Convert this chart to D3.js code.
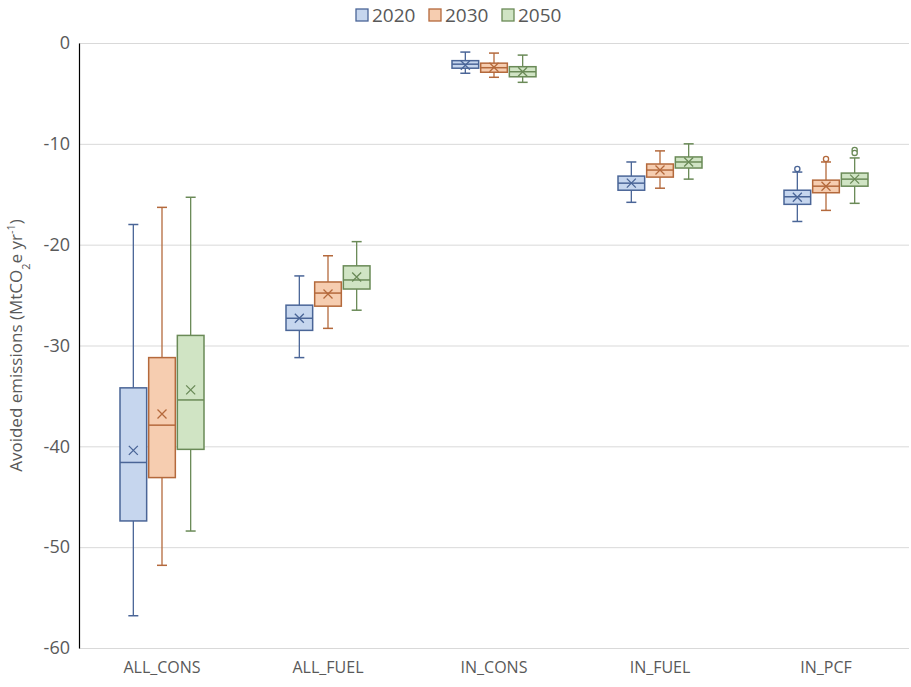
<!DOCTYPE html>
<html>
<head>
<meta charset="utf-8">
<script src="https://cdn.jsdelivr.net/npm/d3@7"></script>
<style>
  body { margin: 0; background: #fff; }
  text { font-family: "Open Sans", "Noto Sans", sans-serif; fill: #595959; }
</style>
</head>
<body>
<div id="chart"></div>
<script>
// categories and series
var categories = ["ALL_CONS", "ALL_FUEL", "IN_CONS", "IN_FUEL", "IN_PCF"];
var years = ["2020", "2030", "2050"];
var yTicks = [0, -10, -20, -30, -40, -50, -60];

// box stats per year, one entry per category: [whiskerLow, q1, median, q3, whiskerHigh, mean]
var stats2020 = [
  [-56.8, -47.4, -41.6, -34.2, -18.0, -40.4],
  [-31.2, -28.5, -27.3, -26.0, -23.1, -27.3],
  [-3.0, -2.5, -2.1, -1.75, -0.9, -2.2],
  [-15.8, -14.6, -13.9, -13.2, -11.8, -13.9],
  [-17.7, -16.0, -15.25, -14.6, -12.8, -15.3]
];
var stats2030 = [
  [-51.8, -43.1, -37.9, -31.2, -16.3, -36.8],
  [-28.3, -26.1, -24.8, -23.7, -21.1, -24.9],
  [-3.4, -2.9, -2.45, -2.0, -1.0, -2.4],
  [-14.4, -13.3, -12.6, -12.0, -10.7, -12.6],
  [-16.6, -14.85, -14.2, -13.6, -11.8, -14.2]
];
var stats2050 = [
  [-48.4, -40.3, -35.4, -29.0, -15.3, -34.4],
  [-26.5, -24.4, -23.5, -22.1, -19.7, -23.2],
  [-3.9, -3.35, -2.85, -2.35, -1.2, -2.85],
  [-13.5, -12.4, -11.8, -11.3, -10.0, -11.8],
  [-15.9, -14.2, -13.5, -12.9, -11.4, -13.5]
];
// outliers: [category, value]
var outliers2020 = [["IN_PCF", -12.5]];
var outliers2030 = [["IN_PCF", -11.5]];
var outliers2050 = [["IN_PCF", -10.6], ["IN_PCF", -10.9]];

var fills = ["#c6d6ee", "#f6cdb0", "#d0e4c4"];
var strokes = ["#4a6597", "#b4693c", "#6a8a57"];

var width = 911, height = 687;
var margin = { top: 43, right: 2, bottom: 39, left: 79 };

var svg = d3.select("#chart").append("svg")
  .attr("width", width)
  .attr("height", height);

var x = d3.scaleBand()
  .domain(categories)
  .range([margin.left, width - margin.right]);

var xYear = d3.scaleBand()
  .domain(years)
  .range([-42, 42])
  .paddingInner(0.07);

var y = d3.scaleLinear()
  .domain([-60, 0])
  .range([height - margin.bottom, margin.top]);

// gridlines
svg.append("g")
  .selectAll("line")
  .data(yTicks)
  .join("line")
  .attr("x1", margin.left)
  .attr("x2", width - margin.right)
  .attr("y1", function(d) { return y(d) + 0.5; })
  .attr("y2", function(d) { return y(d) + 0.5; })
  .attr("stroke", "#d9d9d9")
  .attr("stroke-width", 1);

// y axis (plain hyphen minus like the original)
var yAxis = d3.axisLeft(y).tickValues(yTicks).tickSize(0).tickPadding(9)
  .tickFormat(function(d) { return String(d); });
var yg = svg.append("g")
  .attr("transform", "translate(" + margin.left + ",0)")
  .call(yAxis);
yg.select(".domain").attr("stroke", "#000").attr("stroke-width", 1.2);
yg.selectAll("text")
  .style("font-size", "18px")
  .style("font-family", "'Open Sans', sans-serif")
  .attr("fill", "#595959");

// x axis labels
var xAxis = d3.axisBottom(x).tickSize(0).tickPadding(14);
var xg = svg.append("g")
  .attr("transform", "translate(0," + (height - margin.bottom) + ")")
  .call(xAxis);
xg.select(".domain").remove();
xg.selectAll("text")
  .style("font-size", "16px")
  .attr("fill", "#595959");

// y title
svg.append("text")
  .attr("transform", "translate(22," + (margin.top + (height - margin.bottom - margin.top) / 2) + ") rotate(-90)")
  .attr("text-anchor", "middle")
  .style("font-size", "17px")
  .html("Avoided emissions (MtCO<tspan baseline-shift='sub' font-size='11px'>2</tspan>e yr<tspan baseline-shift='super' font-size='11px'>-1</tspan>)");

// boxes
var allStats = [stats2020, stats2030, stats2050];
var allOutliers = [outliers2020, outliers2030, outliers2050];

years.forEach(function(yr, k) {
  var g = svg.append("g");
  var bw = xYear.bandwidth();
  var data = allStats[k].map(function(s, i) { return { cat: categories[i], s: s }; });
  var cx = function(d) { return x(d.cat) + x.bandwidth() / 2 + xYear(yr) + bw / 2; };

  var box = g.selectAll("g.box").data(data).join("g").attr("class", "box");

  // whiskers
  box.append("line")
    .attr("x1", cx).attr("x2", cx)
    .attr("y1", function(d) { return y(d.s[0]); })
    .attr("y2", function(d) { return y(d.s[4]); })
    .attr("stroke", strokes[k]).attr("stroke-width", 1.3);
  [0, 4].forEach(function(j) {
    box.append("line")
      .attr("x1", function(d) { return cx(d) - 5; })
      .attr("x2", function(d) { return cx(d) + 5; })
      .attr("y1", function(d) { return y(d.s[j]); })
      .attr("y2", function(d) { return y(d.s[j]); })
      .attr("stroke", strokes[k]).attr("stroke-width", 1.5);
  });

  box.append("rect")
    .attr("x", function(d) { return cx(d) - bw / 2; })
    .attr("width", bw)
    .attr("y", function(d) { return y(d.s[3]); })
    .attr("height", function(d) { return y(d.s[1]) - y(d.s[3]); })
    .attr("fill", fills[k])
    .attr("stroke", strokes[k]).attr("stroke-width", 1.5);

  // median
  box.append("line")
    .attr("x1", function(d) { return cx(d) - bw / 2; })
    .attr("x2", function(d) { return cx(d) + bw / 2; })
    .attr("y1", function(d) { return y(d.s[2]); })
    .attr("y2", function(d) { return y(d.s[2]); })
    .attr("stroke", strokes[k]).attr("stroke-width", 1.5);

  // mean cross
  box.append("path")
    .attr("d", function(d) {
      var px = cx(d), py = y(d.s[5]), r = 4.5;
      return "M" + (px - r) + "," + (py - r) + "L" + (px + r) + "," + (py + r) +
        "M" + (px - r) + "," + (py + r) + "L" + (px + r) + "," + (py - r);
    })
    .attr("stroke", strokes[k]).attr("stroke-width", 1.3).attr("fill", "none");

  // outliers
  g.selectAll("circle")
    .data(allOutliers[k])
    .join("circle")
    .attr("cx", function(d) { return x(d[0]) + x.bandwidth() / 2 + xYear(yr) + bw / 2; })
    .attr("cy", function(d) { return y(d[1]); })
    .attr("r", 2.6)
    .attr("fill", "#fff")
    .attr("stroke", strokes[k]).attr("stroke-width", 1.3);
});

// legend
var legend = svg.append("g").attr("transform", "translate(356,15)");
var legX = [0, 73, 146];
years.forEach(function(yr, k) {
  var lg = legend.append("g").attr("transform", "translate(" + legX[k] + ",0)");
  lg.append("rect")
    .attr("x", 0).attr("y", -6).attr("width", 12).attr("height", 12)
    .attr("fill", fills[k]).attr("stroke", strokes[k]).attr("stroke-width", 1.3);
  lg.append("text")
    .attr("x", 16).attr("y", 0).attr("dy", "0.35em")
    .style("font-size", "19px")
    .text(yr);
});
</script>
</body>
</html>
